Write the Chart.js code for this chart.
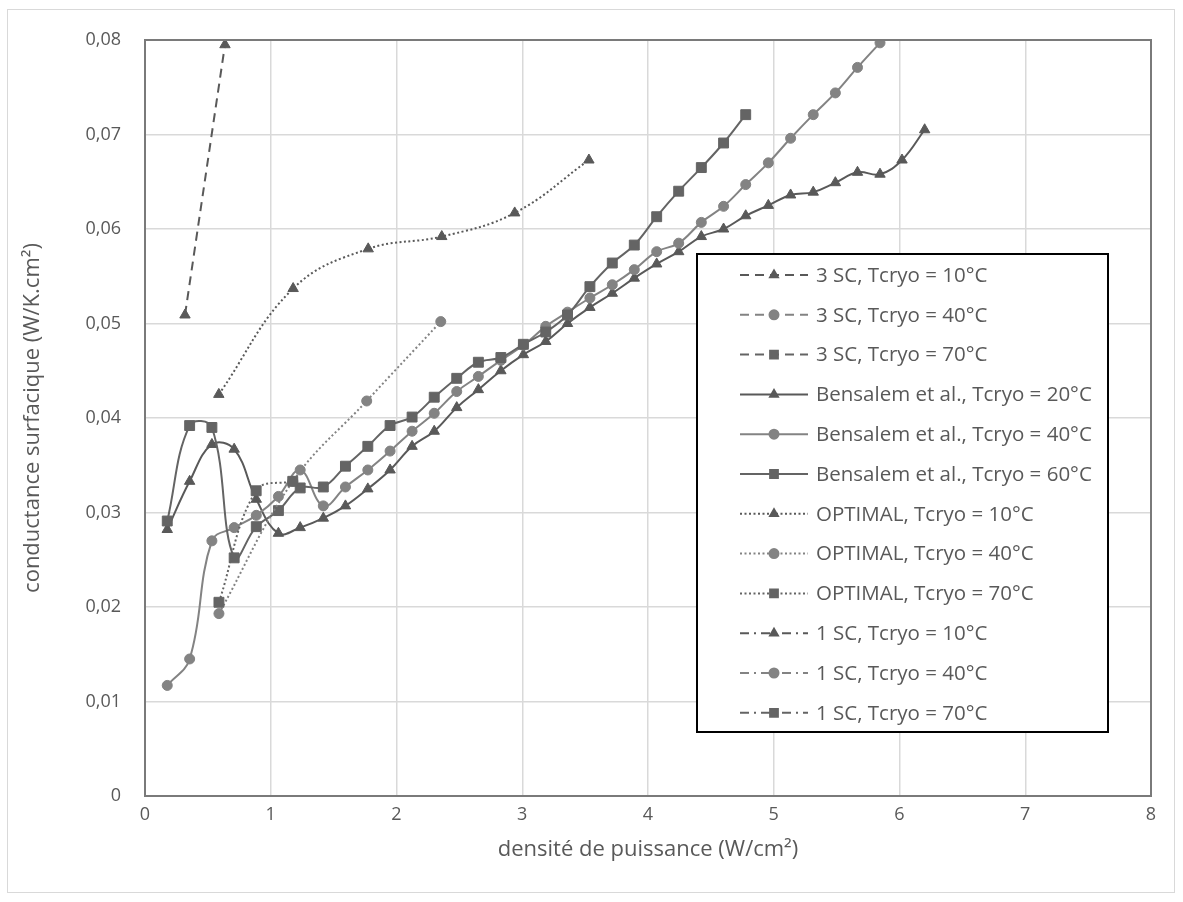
<!DOCTYPE html>
<html>
<head>
<meta charset="utf-8">
<script src="https://cdn.jsdelivr.net/npm/chart.js@4.4.1/dist/chart.umd.min.js"></script>
<style>
    body { margin: 0; background: #fff; }
    #wrap { width: 1183px; height: 902px; }
</style>
</head>
<body>
<div id="wrap"><canvas id="myChart"></canvas></div>
<script>
// series names, same order as the legend
const seriesNames = [
    '3 SC, Tcryo = 10°C', '3 SC, Tcryo = 40°C', '3 SC, Tcryo = 70°C',
    'Bensalem et al., Tcryo = 20°C', 'Bensalem et al., Tcryo = 40°C', 'Bensalem et al., Tcryo = 60°C',
    'OPTIMAL, Tcryo = 10°C', 'OPTIMAL, Tcryo = 40°C', 'OPTIMAL, Tcryo = 70°C',
    '1 SC, Tcryo = 10°C', '1 SC, Tcryo = 40°C', '1 SC, Tcryo = 70°C'
];

// x values (densité de puissance, W/cm²)
const sc3X_10 = [0.318, 0.636];
const bensalemX = [0.177, 0.355, 0.532, 0.709, 0.885, 1.061, 1.234, 1.418, 1.594, 1.772,
    1.949, 2.124, 2.300, 2.479, 2.651, 2.830, 3.009, 3.187, 3.360, 3.538,
    3.716, 3.891, 4.069, 4.244, 4.424, 4.601, 4.777, 4.957, 5.134, 5.314,
    5.490, 5.666, 5.845, 6.020, 6.200];
const optX_10 = [0.587, 1.178, 1.775, 2.360, 2.940, 3.530];
const optX_40 = [0.588, 1.176, 1.763, 2.352];
const optX_70 = [0.588, 0.884, 1.175];

// y values (conductance surfacique, W/K.cm²)
const sc3Y_10 = [0.0509, 0.0795];
const sc3Y_40 = [];
const sc3Y_70 = [];
const bensY_20 = [0.0282, 0.0333, 0.0372, 0.0367, 0.0314, 0.0278, 0.0284, 0.0294, 0.0307, 0.0325,
    0.0345, 0.0370, 0.0386, 0.0411, 0.0430, 0.0450, 0.0467, 0.0481, 0.0500, 0.0517,
    0.0532, 0.0548, 0.0563, 0.0576, 0.0592, 0.0600, 0.0614, 0.0625, 0.0636, 0.0639,
    0.0649, 0.0660, 0.0658, 0.0673, 0.0705];
const bensY_40 = [0.0117, 0.0145, 0.0270, 0.0284, 0.0297, 0.0317, 0.0345, 0.0307, 0.0327, 0.0345,
    0.0365, 0.0386, 0.0405, 0.0428, 0.0444, 0.0461, 0.0477, 0.0497, 0.0512, 0.0527,
    0.0541, 0.0557, 0.0576, 0.0585, 0.0607, 0.0624, 0.0647, 0.0670, 0.0696, 0.0721,
    0.0744, 0.0771, 0.0797];
const bensY_60 = [0.0291, 0.0392, 0.0390, 0.0252, 0.0285, 0.0302, 0.0326, 0.0327, 0.0349, 0.0370,
    0.0392, 0.0401, 0.0422, 0.0442, 0.0459, 0.0464, 0.0478, 0.0491, 0.0509, 0.0539,
    0.0564, 0.0583, 0.0613, 0.0640, 0.0665, 0.0691, 0.0721];
const optY_10 = [0.0425, 0.0537, 0.0579, 0.0592, 0.0617, 0.0673];
const optY_40 = [0.0193, 0.0333, 0.0418, 0.0502];
const optY_70 = [0.0205, 0.0323, 0.0333];
const sc1Y_10 = [];
const sc1Y_40 = [];
const sc1Y_70 = [];

// axis ticks
const xTickValues = [0, 1, 2, 3, 4, 5, 6, 7, 8];
const yTickValues = [0, 0.01, 0.02, 0.03, 0.04, 0.05, 0.06, 0.07, 0.08];

const FONT = "'Open Sans', sans-serif";
const TXT = '#595959';

function pts(xs, ys) {
    return ys.map((y, i) => ({x: xs[i], y: y}));
}

const cTri = '#595959', cCirc = '#838383', cSq = '#646464';
const dash = [9, 6], dot = [2, 2.5], dashDot = [9, 5, 2, 5];

function ds(i, data, color, style, borderDash) {
    let r = style === 'triangle' ? 6 : (style === 'rect' ? 7 : 5);
    return {
        label: seriesNames[i],
        data: data,
        borderColor: color,
        backgroundColor: color,
        pointBackgroundColor: color,
        pointBorderColor: color,
        pointBorderWidth: 1,
        pointStyle: style,
        pointRadius: r,
        pointHoverRadius: r,
        legendRadius: style === 'triangle' ? 4.5 : (style === 'rect' ? 5.5 : 4.5),
        borderWidth: 2,
        borderDash: borderDash,
        tension: 0.4,
        fill: false,
        order: 12 - i
    };
}

const datasets = [
    ds(0, pts(sc3X_10, sc3Y_10), cTri, 'triangle', dash),
    ds(1, pts([], sc3Y_40), cCirc, 'circle', dash),
    ds(2, pts([], sc3Y_70), cSq, 'rect', dash),
    ds(3, pts(bensalemX, bensY_20), cTri, 'triangle', []),
    ds(4, pts(bensalemX, bensY_40), cCirc, 'circle', []),
    ds(5, pts(bensalemX, bensY_60), cSq, 'rect', []),
    ds(6, pts(optX_10, optY_10), cTri, 'triangle', dot),
    ds(7, pts(optX_40, optY_40), cCirc, 'circle', dot),
    ds(8, pts(optX_70, optY_70), cSq, 'rect', dot),
    ds(9, pts([], sc1Y_10), cTri, 'triangle', dashDot),
    ds(10, pts([], sc1Y_40), cCirc, 'circle', dashDot),
    ds(11, pts([], sc1Y_70), cSq, 'rect', dashDot)
];

// frame of the whole chart + border of the plot area
const frames = {
    id: 'frames',
    beforeDraw(chart) {
        const ctx = chart.ctx;
        ctx.save();
        ctx.fillStyle = '#fff';
        ctx.fillRect(0, 0, chart.width, chart.height);
        ctx.strokeStyle = '#d9d9d9';
        ctx.lineWidth = 1;
        ctx.strokeRect(7.5, 9.5, 1167, 883);
        ctx.restore();
    },
    afterDatasetsDraw(chart) {
        const a = chart.chartArea, ctx = chart.ctx;
        ctx.save();
        ctx.strokeStyle = '#7a7a7a';
        ctx.lineWidth = 2;
        ctx.strokeRect(a.left, a.top, a.right - a.left, a.bottom - a.top);
        ctx.restore();
    }
};

// legend box drawn inside the plot
const boxLegend = {
    id: 'boxLegend',
    afterDraw(chart) {
        const ctx = chart.ctx;
        const bx = 697, by = 254, bw = 411, bh = 478;
        ctx.save();
        ctx.fillStyle = '#fff';
        ctx.fillRect(bx, by, bw, bh);
        ctx.strokeStyle = '#000';
        ctx.lineWidth = 2;
        ctx.strokeRect(bx, by, bw, bh);
        chart.data.datasets.forEach((d, i) => {
            const y = 275 + i * 39.8;
            ctx.strokeStyle = d.borderColor;
            ctx.lineWidth = 2;
            ctx.setLineDash(d.borderDash);
            ctx.beginPath();
            ctx.moveTo(740, y);
            ctx.lineTo(808, y);
            ctx.stroke();
            ctx.setLineDash([]);
            ctx.fillStyle = d.borderColor;
            Chart.helpers.drawPoint(ctx, {
                pointStyle: d.pointStyle, radius: d.legendRadius, rotation: 0, borderWidth: 1
            }, 774, y);
            ctx.fillStyle = TXT;
            ctx.font = '20.5px ' + FONT;
            ctx.textBaseline = 'middle';
            ctx.textAlign = 'left';
            ctx.fillText(d.label, 816, y + 1);
        });
        ctx.restore();
    }
};

const ctx = document.getElementById('myChart').getContext('2d');
const myChart = new Chart(ctx, {
    type: 'line',
    data: { datasets: datasets },
    options: {
        responsive: true,
        maintainAspectRatio: false,
        animation: false,
        layout: { padding: { top: 40, right: 32, left: 0, bottom: 0 } },
        plugins: {
            legend: { display: false },
            tooltip: { enabled: false }
        },
        scales: {
            x: {
                type: 'linear',
                min: 0, max: 8,
                afterBuildTicks: s => { s.ticks = xTickValues.map(v => ({value: v})); },
                afterFit: s => { s.height = 106; },
                grid: { color: '#d9d9d9', lineWidth: 1.5, drawTicks: false },
                border: { display: false },
                ticks: { color: TXT, font: { family: FONT, size: 18 }, padding: 8 },
                title: {
                    display: true, text: 'densité de puissance (W/cm²)',
                    color: TXT, font: { family: FONT, size: 22 }, padding: 39
                }
            },
            y: {
                type: 'linear',
                min: 0, max: 0.08,
                afterBuildTicks: s => { s.ticks = yTickValues.map(v => ({value: v})); },
                afterFit: s => { s.width = 145; },
                grid: { color: '#d9d9d9', lineWidth: 1.5, drawTicks: false },
                border: { display: false },
                ticks: {
                    color: TXT, font: { family: FONT, size: 18 }, padding: 24,
                    callback: v => v === 0 ? '0' : v.toFixed(2).replace('.', ',')
                },
                title: {
                    display: true, text: 'conductance surfacique (W/K.cm²)',
                    color: TXT, font: { family: FONT, size: 22 }, padding: 20
                }
            }
        }
    },
    plugins: [frames, boxLegend]
});
</script>
</body>
</html>
